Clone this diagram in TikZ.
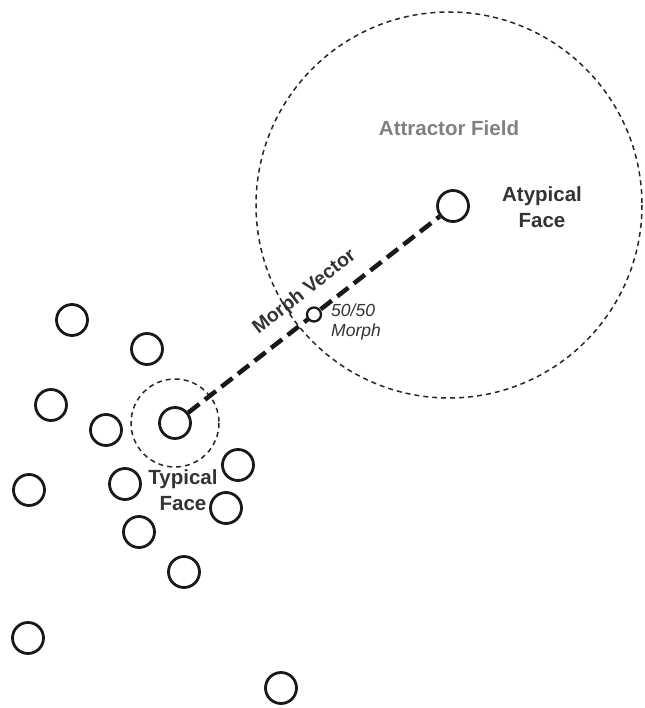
\documentclass[tikz,border=0pt]{standalone}
\usepackage{fontspec}
\setmainfont{Liberation Sans}
\usetikzlibrary{positioning}

\tikzset{
  face/.style={circle, draw=black!90, fill=white, line width=2.8pt, minimum size=31pt, inner sep=0pt},
  morph/.style={circle, draw=black!90, fill=white, solid, line width=2.3pt, minimum size=14pt, inner sep=0pt},
  field/.style={draw=black!85, line width=1.5pt, dash pattern=on 5pt off 4pt},
  vec/.style={draw=black!90, line width=4.5pt, dash pattern=on 14pt off 7pt},
  lbl/.style={font=\fontsize{20.5}{25.5}\selectfont\bfseries, text=black!80, align=center, inner sep=0pt}
}

\begin{document}
\begin{tikzpicture}[x=1pt,y=-1pt]

\useasboundingbox (0,0) rectangle (644,708);

% attractor field
\draw[field] (449,205) circle (193);
\node[lbl, text=black!50] (fieldlbl) at (449,128) {Attractor Field};

% faces
\node[face] (typ) at (175,423) {};
\node[face] (atyp) at (453,206) {};
\draw[field] (typ.center) circle (44);

\node[face] (f1) at (72,320) {};
\node[face] (f2) at (147,349) {};
\node[face] (f3) at (51,405) {};
\node[face] (f4) at (106,430) {};
\node[face] (f5) at (238,465) {};
\node[face] (f6) at (125,484) {};
\node[face] (f7) at (29,490) {};
\node[face] (f8) at (226,508) {};
\node[face] (f9) at (139,532) {};
\node[face] (f10) at (184,572) {};
\node[face] (f11) at (28,638) {};
\node[face] (f12) at (281,688) {};

% morph vector
\draw[vec] (typ) -- (atyp)
  node[midway, morph] (mid) {}
  node[pos=0.52, above=12pt, sloped, lbl, font=\fontsize{19.5}{22}\selectfont\bfseries, solid] (veclbl) {Morph Vector};

\node[lbl] (atyplbl) at (542,207) {Atypical\\Face};
\node[lbl] (typlbl) at (183,490) {Typical\\Face};
\node[lbl, font=\fontsize{17.5}{20}\selectfont\itshape, align=left, anchor=west] (midlbl) at (331,322) {50/50\\Morph};

\end{tikzpicture}
\end{document}
